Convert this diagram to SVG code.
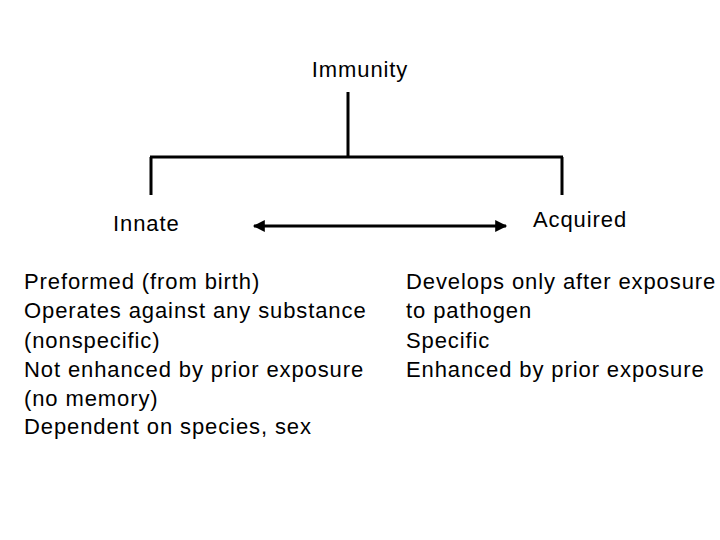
<svg xmlns="http://www.w3.org/2000/svg" width="720" height="540" viewBox="0 0 720 540">
<style>
text{font-family:"Liberation Sans",Arial,sans-serif;font-size:22px;letter-spacing:0.9px;fill:#000}
.l{stroke:#000;stroke-width:3;fill:none}
</style>
<defs>
<marker id="ah" viewBox="0 0 10 10" refX="9" refY="5" markerWidth="5" markerHeight="4" orient="auto-start-reverse" markerUnits="strokeWidth">
<path d="M0,0L10,5L0,10z" fill="#000"/>
</marker>
</defs>
<rect width="720" height="540" fill="#fff"/>
<g id="connectors">
<path class="l" d="M348,92V157M150,157H563M151,157V195M562,157V195"/>
<path class="l" d="M254,226H506" marker-start="url(#ah)" marker-end="url(#ah)"/>
</g>
<g id="immunity"><text x="360" y="77" text-anchor="middle">Immunity</text></g>
<g id="innate"><text x="113" y="231">Innate</text>
<text x="24" y="289">Preformed (from birth)</text>
<text x="24" y="318">Operates against any substance</text>
<text x="24" y="348">(nonspecific)</text>
<text x="24" y="377">Not enhanced by prior exposure</text>
<text x="24" y="406">(no memory)</text>
<text x="24" y="434">Dependent on species, sex</text></g>
<g id="acquired"><text x="533" y="227">Acquired</text>
<text x="406" y="289">Develops only after exposure</text>
<text x="406" y="318">to pathogen</text>
<text x="406" y="348">Specific</text>
<text x="406" y="377">Enhanced by prior exposure</text></g>
</svg>
